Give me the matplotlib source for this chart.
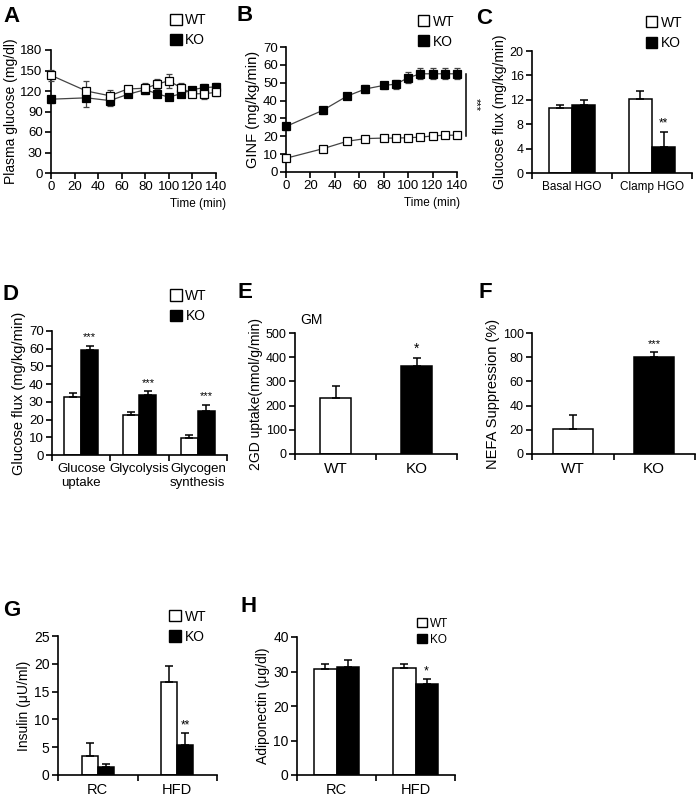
import numpy as np
import matplotlib
matplotlib.use("Agg")
import matplotlib.pyplot as plt
from matplotlib.patches import Patch

plt.rcParams['font.family'] = ['Liberation Sans', 'DejaVu Sans']

# A: plasma glucose during clamp
time_pts = [0, 30, 50, 65, 80, 90, 100, 110, 120, 130, 140]
glu_wt = [143, 120, 113, 123, 124, 130, 135, 125, 116, 116, 118]
glu_wt_err = [8, 14, 8, 5, 7, 7, 10, 7, 5, 8, 6]
glu_ko = [108, 110, 106, 115, 122, 116, 111, 116, 122, 125, 126]
glu_ko_err = [5, 13, 8, 4, 7, 5, 3, 4, 4, 5, 5]

# B: glucose infusion rate
ginf_wt = [7.7, 13.0, 17.2, 18.7, 19.0, 19.0, 19.2, 19.5, 20.2, 20.6, 20.6]
ginf_wt_err = [1, 1, 1, 1, 1, 1, 1, 1, 1, 1, 1]
ginf_ko = [25.5, 34.5, 42.5, 46.5, 48.5, 49.2, 52.8, 55, 55, 55, 55]
ginf_ko_err = [2, 2, 1.5, 2, 2, 2.5, 3, 3, 3, 3, 3]

# C: hepatic glucose output
hgo_cats = ['Basal HGO', 'Clamp HGO']
hgo_wt = [10.7, 12.2]
hgo_wt_err = [0.4, 1.2]
hgo_ko = [11.1, 4.3]
hgo_ko_err = [0.8, 2.4]

# D: glucose flux
flux_cats = ['Glucose\nuptake', 'Glycolysis', 'Glycogen\nsynthesis']
flux_wt = [32.5, 22.5, 9.5]
flux_wt_err = [2.5, 2.0, 2.0]
flux_ko = [59.5, 34.0, 25.0]
flux_ko_err = [2.0, 2.0, 3.5]

# E: 2DG uptake GM
gd_cats = ['WT', 'KO']
gd_vals = [232, 365]
gd_err = [50, 30]

# F: NEFA suppression
nefa_cats = ['WT', 'KO']
nefa_vals = [20.5, 80.5]
nefa_err = [12, 3.5]

# G: insulin
diet_cats = ['RC', 'HFD']
ins_wt = [3.5, 16.8]
ins_wt_err = [2.3, 2.8]
ins_ko = [1.4, 5.4]
ins_ko_err = [0.5, 2.1]

# H: adiponectin
adi_wt = [30.7, 31.0]
adi_wt_err = [1.5, 1.2]
adi_ko = [31.4, 26.3]
adi_ko_err = [2.0, 1.5]

W, H = 699, 800
fig = plt.figure(figsize=(6.99, 8.0), dpi=100)


def mkax(l, t, r, b):
    return fig.add_axes([l / W, 1 - b / H, (r - l) / W, (b - t) / H])


def style(ax, ysize=9.5):
    for s in ['top', 'right']:
        ax.spines[s].set_visible(False)
    for s in ['left', 'bottom']:
        ax.spines[s].set_linewidth(1.2)
    ax.tick_params(axis='y', direction='out', length=4, width=1.2, labelsize=ysize, pad=2)


def bar_xaxis(ax, n, labels, size):
    ax.set_xlim(-0.5, n - 0.5)
    ax.set_xticks(range(n))
    ax.set_xticklabels(labels, fontsize=size)
    ax.tick_params(axis='x', which='major', length=0, pad=6)
    ax.set_xticks(np.arange(-0.5, n, 1.0), minor=True)
    ax.tick_params(axis='x', which='minor', direction='out', length=4, width=1.2)


def legend(ax, x, y, size=10, spacing=0.45):
    hs = [Patch(facecolor='white', edgecolor='black', linewidth=1),
          Patch(facecolor='black', edgecolor='black', linewidth=1)]
    ax.legend(hs, ['WT', 'KO'], loc='upper left', bbox_to_anchor=(x, y),
              frameon=False, handlelength=0.85, handleheight=0.85,
              handletextpad=0.25, labelspacing=spacing, borderaxespad=0,
              borderpad=0, fontsize=size)


def grouped(ax, wt, wte, ko, koe, width):
    x = np.arange(len(wt))
    ek = dict(ecolor='black', elinewidth=1.1, capsize=3, capthick=1.1)
    ax.bar(x - width / 2, wt, width, color='white', edgecolor='black', linewidth=1.1,
           yerr=[np.zeros(len(wt)), wte], error_kw=ek)
    ax.bar(x + width / 2, ko, width, color='black', edgecolor='black', linewidth=1.1,
           yerr=[np.zeros(len(ko)), koe], error_kw=ek)
    return x


def panel(x, y, s):
    fig.text(x / W, 1 - y / H, s, fontsize=16, fontweight='bold', va='top', ha='left')


def lines(ax, wt, wte, ko, koe):
    for vals, err, fc in [(ko, koe, 'black'), (wt, wte, 'white')]:
        ln, caps, bars = ax.errorbar(time_pts, vals, yerr=err, color='#444444', lw=0.9,
                                     marker='s', ms=5.5, mfc=fc, mec='black', mew=0.9,
                                     ecolor='#444444', elinewidth=0.9, capsize=2.5, zorder=3)
        ln.set_clip_on(False)
        for c in caps:
            c.set_clip_on(False)
        for b in bars:
            b.set_clip_on(False)
    ax.set_xlim(0, 140)
    ax.set_xticks(range(0, 141, 20))
    ax.tick_params(axis='x', direction='out', length=4, width=1.2, labelsize=9.5, pad=2)


# ---- A ----
axA = mkax(51, 50, 216, 173)
style(axA)
lines(axA, glu_wt, glu_wt_err, glu_ko, glu_ko_err)
axA.set_ylim(0, 180)
axA.set_yticks(range(0, 181, 30))
axA.set_ylabel('Plasma glucose (mg/dl)', fontsize=10, labelpad=2)
axA.text(1.06, -0.2, 'Time (min)', transform=axA.transAxes, ha='right', va='top', fontsize=8.5)
legend(axA, 0.72, 1.30)
panel(3, 6, 'A')

# ---- B ----
axB = mkax(286, 47, 457, 172)
style(axB)
lines(axB, ginf_wt, ginf_wt_err, ginf_ko, ginf_ko_err)
axB.set_ylim(0, 70)
axB.set_yticks(range(0, 71, 10))
axB.set_ylabel('GINF (mg/kg/min)', fontsize=10.5, labelpad=2)
axB.text(1.02, -0.2, 'Time (min)', transform=axB.transAxes, ha='right', va='top', fontsize=8.5)
axB.plot([147, 147], [20, 55], color='black', lw=1.1, clip_on=False)
axB.text(151, 37.5, '***', rotation=270, ha='left', va='center', fontsize=8)
legend(axB, 0.77, 1.26)
panel(236, 5, 'B')

# ---- C ----
axC = mkax(532, 51, 692, 173)
style(axC, 9)
x = grouped(axC, hgo_wt, hgo_wt_err, hgo_ko, hgo_ko_err, 0.29)
bar_xaxis(axC, 2, hgo_cats, 8.5)
axC.set_ylim(0, 20)
axC.set_yticks(range(0, 21, 4))
axC.set_ylabel('Glucose flux (mg/kg/min)', fontsize=10, labelpad=2)
axC.text(x[1] + 0.145, hgo_ko[1] + hgo_ko_err[1] + 0.5, '**', ha='center', va='bottom', fontsize=8.5)
legend(axC, 0.71, 1.29)
panel(476, 8, 'C')

# ---- D ----
axD = mkax(52, 331, 227, 455)
style(axD)
x = grouped(axD, flux_wt, flux_wt_err, flux_ko, flux_ko_err, 0.29)
bar_xaxis(axD, 3, flux_cats, 9.5)
axD.set_ylim(0, 70)
axD.set_yticks(range(0, 71, 10))
axD.set_ylabel('Glucose flux (mg/kg/min)', fontsize=10.5, labelpad=2)
for i in range(3):
    axD.text(x[i] + 0.145, flux_ko[i] + flux_ko_err[i] + 2, '***', ha='center', va='bottom', fontsize=8)
legend(axD, 0.675, 1.34)
panel(3, 284, 'D')

# ---- E ----
axE = mkax(295, 333, 457, 454)
style(axE, 9)
axE.bar(range(2), gd_vals, 0.39, color=['white', 'black'], edgecolor='black', linewidth=1.1,
        yerr=[[0, 0], gd_err], error_kw=dict(ecolor='black', elinewidth=1.1, capsize=3, capthick=1.1))
bar_xaxis(axE, 2, gd_cats, 11)
axE.set_ylim(0, 500)
axE.set_yticks(range(0, 501, 100))
axE.set_ylabel('2GD uptake(nmol/g/min)', fontsize=10, labelpad=2)
axE.text(1, gd_vals[1] + gd_err[1] + 12, '*', ha='center', va='bottom', fontsize=10)
axE.text(0.03, 1.05, 'GM', transform=axE.transAxes, ha='left', va='bottom', fontsize=10)
panel(237, 282, 'E')

# ---- F ----
axF = mkax(532, 333, 695, 454)
style(axF, 9)
axF.bar(range(2), nefa_vals, 0.49, color=['white', 'black'], edgecolor='black', linewidth=1.1,
        yerr=[[0, 0], nefa_err], error_kw=dict(ecolor='black', elinewidth=1.1, capsize=3, capthick=1.1))
bar_xaxis(axF, 2, nefa_cats, 11)
axF.set_ylim(0, 100)
axF.set_yticks(range(0, 101, 20))
axF.set_ylabel('NEFA Suppression (%)', fontsize=10.5, labelpad=2)
axF.text(1, nefa_vals[1] + nefa_err[1] + 3, '***', ha='center', va='bottom', fontsize=8)
panel(478, 282, 'F')

# ---- G ----
axG = mkax(58, 636, 217, 775)
style(axG, 10)
x = grouped(axG, ins_wt, ins_wt_err, ins_ko, ins_ko_err, 0.2)
bar_xaxis(axG, 2, diet_cats, 10.5)
axG.set_ylim(0, 25)
axG.set_yticks(range(0, 26, 5))
axG.set_ylabel('Insulin (μU/ml)', fontsize=10, labelpad=2)
axG.text(x[1] + 0.1, ins_ko[1] + ins_ko_err[1] + 0.3, '**', ha='center', va='bottom', fontsize=8.5)
legend(axG, 0.70, 1.19)
panel(3, 600, 'G')

# ---- H ----
axH = mkax(297, 637, 455, 775)
style(axH, 10)
x = grouped(axH, adi_wt, adi_wt_err, adi_ko, adi_ko_err, 0.28)
bar_xaxis(axH, 2, diet_cats, 10.5)
axH.set_ylim(0, 40)
axH.set_yticks(range(0, 41, 10))
axH.set_ylabel('Adiponectin (μg/dl)', fontsize=10, labelpad=2)
axH.text(x[1] + 0.14, adi_ko[1] + adi_ko_err[1] + 0.5, '*', ha='center', va='bottom', fontsize=9)
legend(axH, 0.76, 1.14, size=8.5, spacing=0.35)
panel(240, 596, 'H')

fig.savefig('out.png', dpi=100)
